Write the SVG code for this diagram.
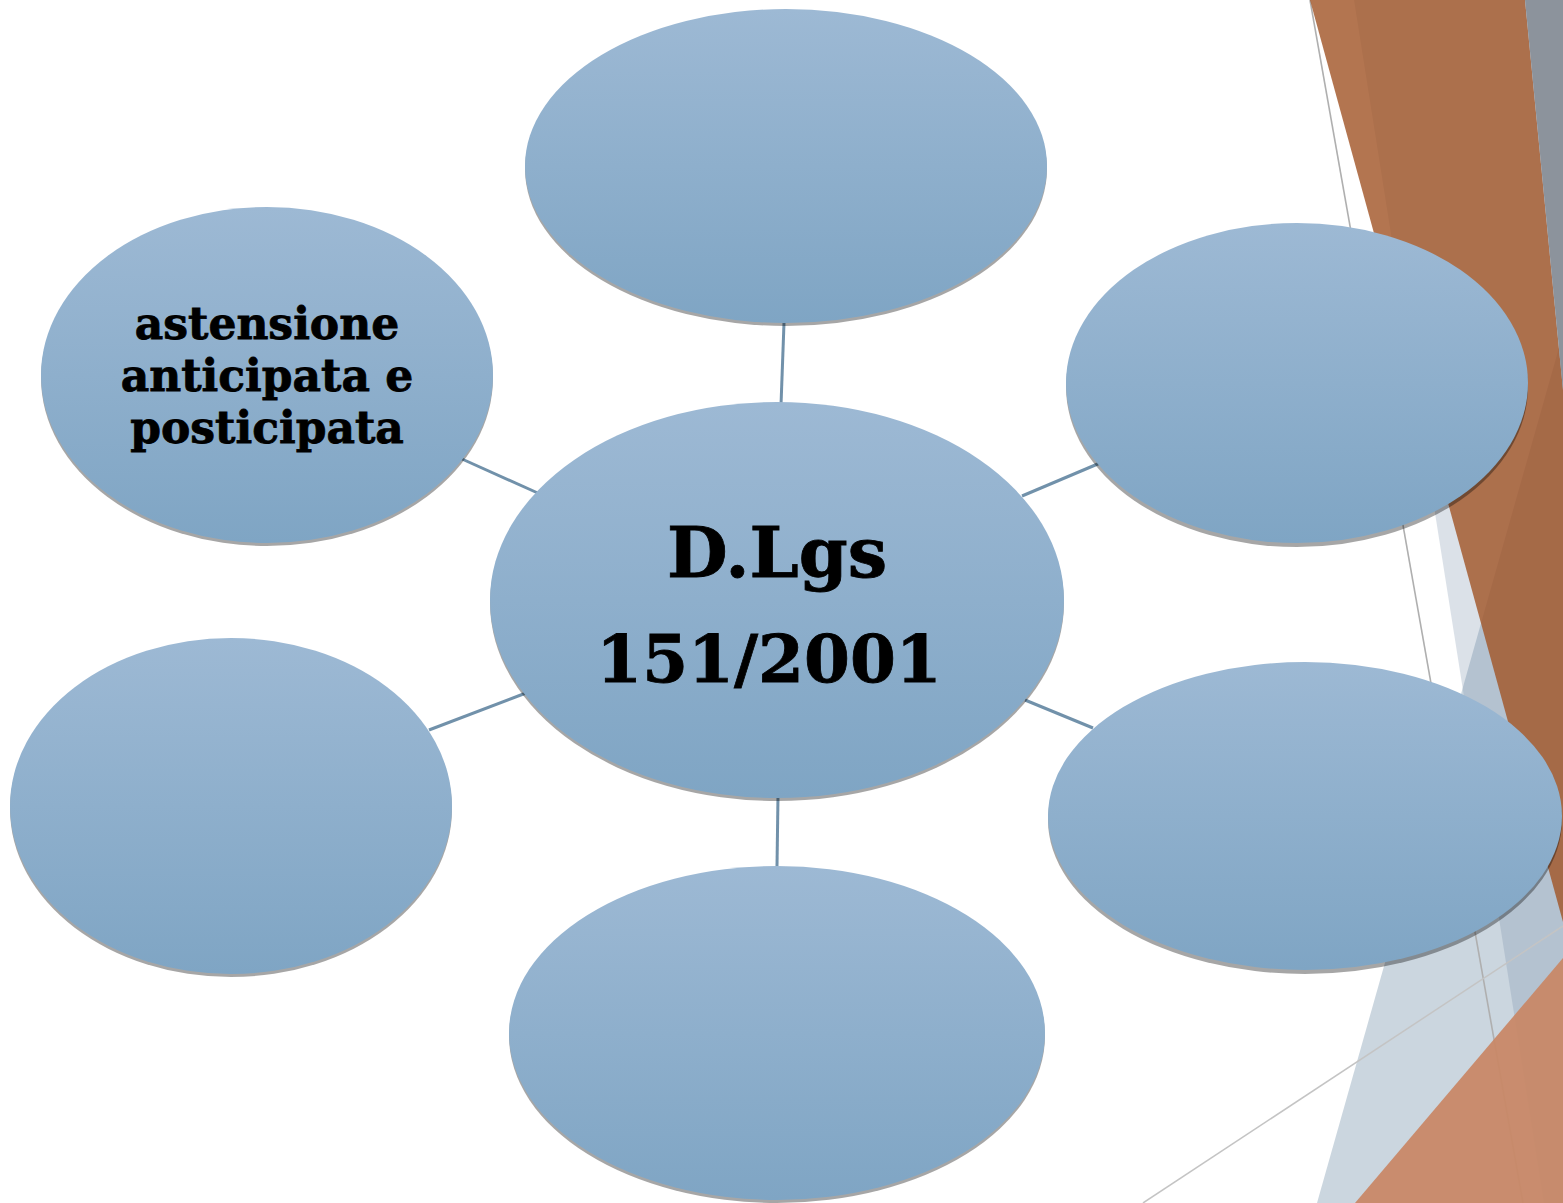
<svg xmlns="http://www.w3.org/2000/svg" width="1563" height="1203" viewBox="0 0 1563 1203">
<style>
.node{fill:url(#g)}
.sh{fill:#000;fill-opacity:0.35}
.t{font-family:"DejaVu Serif","Liberation Serif",serif;font-weight:bold;fill:#000;stroke:#000;stroke-width:0.8;text-anchor:middle}
.c{stroke:#7191AA;stroke-width:3;fill:none}
</style>
<defs>
<linearGradient id="g" x1="0" y1="0" x2="0" y2="1">
<stop offset="0" stop-color="#9DB9D4"/>
<stop offset="1" stop-color="#7FA5C4"/>
</linearGradient>
</defs>
<rect width="1563" height="1203" fill="#fff"/>
<g id="decor">
<polygon points="1317,1203 1564,330 1563,1203" fill="#CBD6DF"/>
<polygon points="1354,0 1563,0 1563,1203 1544,1203" fill="rgb(112,135,163)" fill-opacity="0.25"/>
<line x1="1310" y1="0" x2="1523" y2="1203" stroke="#AFAFAF" stroke-width="1.6"/>
<polygon points="1310,0 1525,0 1563,390 1563,922" fill="rgb(161,85,39)" fill-opacity="0.81"/>
<polygon points="1525,0 1563,0 1563,390" fill="#8C939C"/>
<polygon points="1355,1203 1563,958 1563,1203" fill="rgb(200,136,103)" fill-opacity="0.95"/>
<line x1="1563" y1="926" x2="1143" y2="1203" stroke="#C4C4C4" stroke-width="1.5"/>
</g>
<g id="connectors">
<line class="c" x1="784" y1="323" x2="781" y2="405"/>
<line class="c" x1="462" y1="459" x2="540" y2="494"/>
<line class="c" x1="1022" y1="496" x2="1100" y2="463"/>
<line class="c" x1="429" y1="730" x2="526" y2="693"/>
<line class="c" x1="1025" y1="700" x2="1093" y2="728"/>
<line class="c" x1="778" y1="796" x2="777" y2="866"/>
</g>
<g id="n-top">
<ellipse class="sh" cx="786" cy="169" rx="261" ry="157"/>
<ellipse class="node" cx="786" cy="166" rx="261" ry="157"/>
</g>
<g id="n-topleft">
<ellipse class="sh" cx="267" cy="378" rx="226" ry="168"/>
<ellipse class="node" cx="267" cy="375" rx="226" ry="168"/>
<text class="t" x="267" y="339" font-size="44">astensione</text>
<text class="t" x="267" y="391" font-size="44">anticipata e</text>
<text class="t" x="267" y="443" font-size="44">posticipata</text>
</g>
<g id="n-topright">
<ellipse class="sh" cx="1297" cy="387" rx="231" ry="160"/>
<ellipse class="node" cx="1297" cy="383" rx="231" ry="160"/>
</g>
<g id="n-left">
<ellipse class="sh" cx="231" cy="809" rx="221" ry="168"/>
<ellipse class="node" cx="231" cy="806" rx="221" ry="168"/>
</g>
<g id="n-right">
<ellipse class="sh" cx="1305" cy="820" rx="257" ry="154"/>
<ellipse class="node" cx="1305" cy="816" rx="257" ry="154"/>
</g>
<g id="n-bottom">
<ellipse class="sh" cx="777" cy="1036" rx="268" ry="167"/>
<ellipse class="node" cx="777" cy="1033" rx="268" ry="167"/>
</g>
<g id="n-center">
<ellipse class="sh" cx="777" cy="603" rx="287" ry="198"/>
<ellipse class="node" cx="777" cy="600" rx="287" ry="198"/>
<text class="t" x="777" y="577" font-size="70">D.Lgs</text>
<text class="t" x="769" y="682" font-size="66">151/2001</text>
</g>
</svg>
